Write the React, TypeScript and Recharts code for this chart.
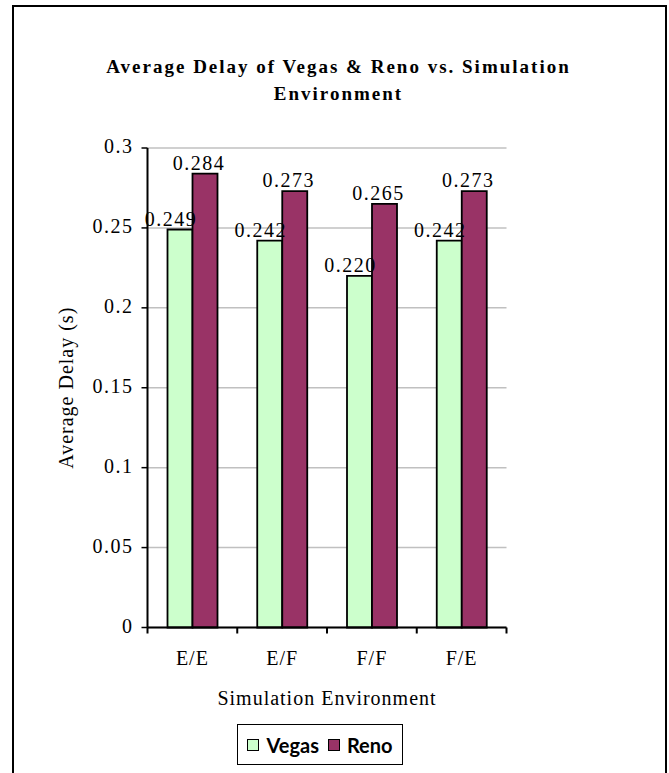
import React from 'react';
import { BarChart, Bar, XAxis, YAxis, CartesianGrid, Legend, LabelList } from 'recharts';

const environments = ['E/E', 'E/F', 'F/F', 'F/E'];
const vegasDelay = [0.249, 0.242, 0.22, 0.242];
const renoDelay = [0.284, 0.273, 0.265, 0.273];
const delayTicks = [0, 0.05, 0.1, 0.15, 0.2, 0.25, 0.3];
const seriesOrder = ['Vegas', 'Reno'];

const W = 669;
const H = 773;
const PLOT_LEFT = 147.5;
const PLOT_RIGHT = 506.5;
const PLOT_TOP = 148;
const PLOT_BOTTOM = 627.5;
const X_AXIS_H = 85;
const BAND = (PLOT_RIGHT - PLOT_LEFT) / environments.length;

const SERIF = "'Liberation Serif', 'Times New Roman', serif";

const chartData = environments.map((env, i) => ({
  env,
  Vegas: vegasDelay[i],
  Reno: renoDelay[i],
}));

function YTick({ x, y, payload }: any) {
  return (
    <text x={x} y={y} dy={5} textAnchor="end" fill="#000" fontSize={20} fontFamily={SERIF} style={{ letterSpacing: 1.5 }}>
      {payload.value}
    </text>
  );
}

function XTick({ x, payload, index }: any) {
  const left = x - BAND / 2;
  return (
    <g>
      <line x1={left} x2={left} y1={PLOT_BOTTOM} y2={PLOT_BOTTOM + 6} stroke="#000" strokeWidth={2} />
      {index === environments.length - 1 && (
        <line x1={x + BAND / 2} x2={x + BAND / 2} y1={PLOT_BOTTOM} y2={PLOT_BOTTOM + 6} stroke="#000" strokeWidth={2} />
      )}
      <text x={x} y={PLOT_BOTTOM + 37} textAnchor="middle" fill="#000" fontSize={20} fontFamily={SERIF} style={{ letterSpacing: 1 }}>
        {payload.value}
      </text>
    </g>
  );
}

function YLabel({ viewBox }: any) {
  const cx = 73;
  const cy = viewBox.y + viewBox.height / 2;
  return (
    <text x={cx} y={cy} transform={`rotate(-90 ${cx} ${cy})`} textAnchor="middle" fill="#000" fontSize={20} fontFamily={SERIF} style={{ letterSpacing: 1 }}>
      Average Delay (s)
    </text>
  );
}

function XLabel({ viewBox }: any) {
  const cx = viewBox.x + viewBox.width / 2;
  return (
    <text x={cx} y={PLOT_BOTTOM + 77} textAnchor="middle" fill="#000" fontSize={20} fontFamily={SERIF} style={{ letterSpacing: 1 }}>
      Simulation Environment
    </text>
  );
}

const makeValueLabel = (dx: number) => (props: any) => {
  const { x, y, width, value } = props;
  return (
    <text x={x + width / 2 + dx} y={y - 4} textAnchor="middle" fill="#000" fontSize={20} fontFamily={SERIF} style={{ letterSpacing: 1.5 }}>
      {Number(value).toFixed(3)}
    </text>
  );
};

function LegendBox({ payload }: any) {
  const items = [...(payload || [])].sort(
    (a: any, b: any) => seriesOrder.indexOf(a.value) - seriesOrder.indexOf(b.value)
  );
  return (
    <div
      style={{
        boxSizing: 'border-box',
        width: 166,
        height: 41,
        border: '1.5px solid #000',
        background: '#fff',
        display: 'flex',
        alignItems: 'center',
        justifyContent: 'center',
        fontFamily: 'Lato, sans-serif',
        fontWeight: 700,
        fontSize: 20,
        color: '#000',
      }}
    >
      {items.map((item: any, i: number) => (
        <div key={item.value} style={{ display: 'flex', alignItems: 'center', marginLeft: i === 0 ? 0 : 9 }}>
          <span
            style={{
              display: 'inline-block',
              boxSizing: 'border-box',
              width: 12,
              height: 12,
              border: '1.5px solid #000',
              background: item.color,
              marginRight: 7,
            }}
          />
          <span>{item.value}</span>
        </div>
      ))}
    </div>
  );
}

export default function App() {
  return (
    <div style={{ position: 'absolute', left: 0, top: 0, width: W, height: H, overflow: 'hidden', background: '#fff' }}>
      <BarChart
        width={W}
        height={H}
        data={chartData}
        margin={{ top: PLOT_TOP, right: W - PLOT_RIGHT, bottom: H - PLOT_BOTTOM - X_AXIS_H, left: 0 }}
        barCategoryGap={20}
        barGap={0}
      >
        <CartesianGrid vertical={false} stroke="#c0c0c0" strokeWidth={1.5} />
        <XAxis
          dataKey="env"
          height={X_AXIS_H}
          interval={0}
          axisLine={{ stroke: '#000', strokeWidth: 2 }}
          tickLine={false}
          tick={<XTick />}
          label={<XLabel />}
        />
        <YAxis
          width={PLOT_LEFT}
          domain={[0, 0.3]}
          ticks={delayTicks}
          interval={0}
          tickSize={6}
          tickMargin={8}
          axisLine={{ stroke: '#000', strokeWidth: 2 }}
          tickLine={{ stroke: '#000', strokeWidth: 1.5 }}
          tick={<YTick />}
          label={<YLabel />}
        />
        <Legend
          layout="horizontal"
          verticalAlign="middle"
          align="center"
          itemSorter={null}
          wrapperStyle={{ left: 237, top: 724, width: 166, height: 41 }}
          content={<LegendBox />}
        />
        <Bar dataKey="Vegas" fill="#CCFFCC" stroke="#000" strokeWidth={1.8} isAnimationActive={false}>
          <LabelList dataKey="Vegas" content={makeValueLabel(-9)} />
        </Bar>
        <Bar dataKey="Reno" fill="#993366" stroke="#000" strokeWidth={1.8} isAnimationActive={false}>
          <LabelList dataKey="Reno" content={makeValueLabel(-6)} />
        </Bar>
      </BarChart>
      <div
        style={{
          position: 'absolute',
          left: 4,
          top: 53,
          width: W,
          textAlign: 'center',
          fontFamily: SERIF,
          fontWeight: 700,
          fontSize: 19,
          lineHeight: '27px',
          letterSpacing: 2,
          color: '#000',
          pointerEvents: 'none',
        }}
      >
        <div>Average Delay of Vegas &amp; Reno vs. Simulation</div>
        <div>Environment</div>
      </div>
      <div
        style={{
          position: 'absolute',
          left: 12,
          top: 5,
          width: 655,
          height: 800,
          boxSizing: 'border-box',
          border: '2.5px solid #000',
          pointerEvents: 'none',
        }}
      />
    </div>
  );
}
